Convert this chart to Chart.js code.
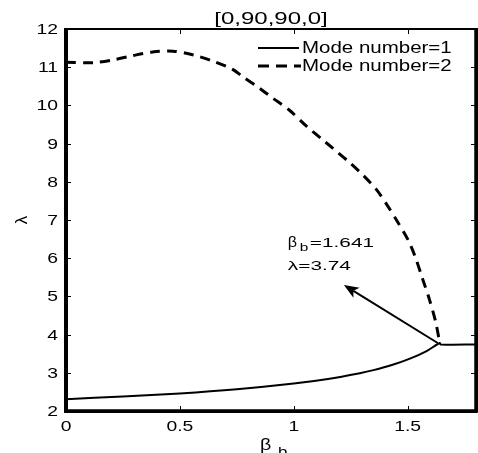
<!DOCTYPE html>
<html><head><meta charset="utf-8">
<script src="https://cdn.jsdelivr.net/npm/chart.js@4/dist/chart.umd.min.js"></script>
<style>html,body{margin:0;padding:0;background:#fff;}canvas{display:block}</style>
</head><body>
<canvas id="c" width="478" height="453"></canvas>
<script>
const chartTitle = '[0,90,90,0]';
const xTicks = [0, 0.5, 1, 1.5];
const xTickLabels = ['0', '0.5', '1', '1.5'];
const yTicks = [2, 3, 4, 5, 6, 7, 8, 9, 10, 11, 12];
const yTickLabels = ['2', '3', '4', '5', '6', '7', '8', '9', '10', '11', '12'];
const seriesNames = ['Mode number=1', 'Mode number=2'];
const mode1X = [0, 0.25, 0.5, 0.75, 1.0, 1.15, 1.29, 1.35, 1.434, 1.51, 1.583, 1.641, 1.645, 1.8];
const mode1Y = [2.31, 2.38, 2.46, 2.57, 2.72, 2.84, 2.99, 3.07, 3.21, 3.37, 3.57, 3.78, 3.74, 3.74];
const mode2X = [0, 0.12, 0.206, 0.29, 0.38, 0.47, 0.56, 0.645, 0.73, 0.776, 0.85, 0.908, 0.98, 1.057, 1.127, 1.171, 1.246, 1.303, 1.364, 1.412, 1.456, 1.5, 1.531, 1.566, 1.596, 1.623, 1.641];
const mode2Y = [11.13, 11.12, 11.19, 11.3, 11.4, 11.42, 11.32, 11.16, 10.95, 10.75, 10.45, 10.19, 9.88, 9.45, 9.1, 8.88, 8.5, 8.18, 7.79, 7.37, 6.95, 6.5, 6.07, 5.45, 4.91, 4.33, 3.78];
const critBeta = '1.641';
const critLambda = '3.74';
const arrowFrom = [1.632, 3.78];
const arrowTo = [1.22, 5.3];
const noteAnchor = [0.974, 6.29];

const toPts = (xs, ys) => xs.map((x, i) => ({x, y: ys[i]}));
const FONT = '"Liberation Sans", Arial, Helvetica, sans-serif';

function sText(ctx, text, x, y, size, sx, align) {
  ctx.save();
  ctx.font = size + 'px ' + FONT;
  const w = ctx.measureText(text).width * sx;
  let dx = x;
  if (align === 'center') dx = x - w / 2;
  else if (align === 'right') dx = x - w;
  ctx.translate(dx, y);
  ctx.scale(sx, 1);
  ctx.textAlign = 'left';
  ctx.textBaseline = 'alphabetic';
  ctx.fillStyle = '#000';
  ctx.fillText(text, 0, 0);
  ctx.restore();
  return w;
}

function seg(ctx, x1, y1, x2, y2, lw, dash) {
  ctx.save();
  ctx.setLineDash(dash || []);
  ctx.strokeStyle = '#000000';
  ctx.lineWidth = lw;
  ctx.beginPath();
  ctx.moveTo(x1, y1);
  ctx.lineTo(x2, y2);
  ctx.stroke();
  ctx.restore();
}

function drawFrame(chart) {
  const ctx = chart.ctx;
  const a = chart.chartArea;
  const L = a.left, R = a.right, T = a.top, B = a.bottom;
  const xs = chart.scales.x, ys = chart.scales.y;
  seg(ctx, L - 2, T, R + 1.5, T, 2);
  seg(ctx, R, T - 1, R, B + 1.5, 3);
  seg(ctx, L - 0.5, T - 1, L - 0.5, B + 1.5, 3);
  seg(ctx, L - 2, B, R + 1.5, B, 3);
  const tl = 5;
  xTicks.forEach((v) => {
    const px = Math.round(xs.getPixelForValue(v)) + 0.5;
    seg(ctx, px, B, px, B - tl, 1);
    seg(ctx, px, T, px, T + tl, 1);
  });
  yTicks.forEach((v) => {
    const py = Math.round(ys.getPixelForValue(v)) + 0.5;
    seg(ctx, L, py, L + tl, py, 1);
    seg(ctx, R, py, R - tl, py, 1);
  });
}

const decor = {
  id: 'decor',
  beforeDatasetsDraw(chart) {
    drawFrame(chart);
  },
  afterDraw(chart) {
    const ctx = chart.ctx;
    const a = chart.chartArea;
    const L = a.left, R = a.right, T = a.top, B = a.bottom;
    const xs = chart.scales.x, ys = chart.scales.y;
    ctx.save();
    drawFrame(chart);
    xTicks.forEach((v, i) => {
      sText(ctx, xTickLabels[i], xs.getPixelForValue(v), B + 20, 14, 1.38, 'center');
    });
    yTicks.forEach((v, i) => {
      sText(ctx, yTickLabels[i], L - 8, ys.getPixelForValue(v) + 5, 14, 1.38, 'right');
    });
    sText(ctx, chartTitle, (L + R) / 2, T - 5, 16, 1.5, 'center');
    sText(ctx, '\u03b2', (L + R) / 2 - 11, B + 39, 17, 1.15, 'left');
    sText(ctx, 'b', (L + R) / 2 + 7, B + 45, 13, 1.3, 'left');
    ctx.save();
    ctx.translate(27, (T + B) / 2);
    ctx.rotate(-Math.PI / 2);
    sText(ctx, '\u03bb', 0, 0, 17, 1.0, 'center');
    ctx.restore();
    const lx0 = 258, lx1 = 299;
    seg(ctx, lx0, T + 19, lx1, T + 19, 2);
    seg(ctx, lx0, T + 37, lx1 + 2, T + 37, 3, [11, 7]);
    sText(ctx, seriesNames[0], 302, T + 24, 16, 1.28, 'left');
    sText(ctx, seriesNames[1], 302, T + 42, 16, 1.28, 'left');
    const fx = xs.getPixelForValue(arrowFrom[0]), fy = ys.getPixelForValue(arrowFrom[1]);
    const tx = xs.getPixelForValue(arrowTo[0]), ty = ys.getPixelForValue(arrowTo[1]);
    const ang = Math.atan2(ty - fy, tx - fx);
    const hl = 16, hw = 0.38;
    const bx = tx - Math.cos(ang) * (hl * 0.7), by = ty - Math.sin(ang) * (hl * 0.7);
    seg(ctx, fx, fy, bx, by, 2);
    ctx.fillStyle = '#000';
    ctx.beginPath();
    ctx.moveTo(tx, ty);
    ctx.lineTo(tx - hl * Math.cos(ang - hw), ty - hl * Math.sin(ang - hw));
    ctx.lineTo(bx, by);
    ctx.lineTo(tx - hl * Math.cos(ang + hw), ty - hl * Math.sin(ang + hw));
    ctx.closePath();
    ctx.fill();
    const nx = xs.getPixelForValue(noteAnchor[0]), ny = ys.getPixelForValue(noteAnchor[1]);
    sText(ctx, '\u03b2', nx, ny, 14, 1.15, 'left');
    sText(ctx, 'b', nx + 12, ny + 4, 11, 1.4, 'left');
    sText(ctx, '=' + critBeta, nx + 22, ny, 13, 1.6, 'left');
    sText(ctx, '\u03bb=' + critLambda, nx, ny + 23, 13, 1.6, 'left');
    ctx.restore();
  }
};

const zeroFit = (scale) => { if (scale.isHorizontal()) scale.height = 0; else scale.width = 0; };
const frameAxis = (pos, axis, min, max, bw) => ({
  type: 'linear', position: pos, axis: axis, min: min, max: max, display: true,
  ticks: { display: false },
  grid: { display: true, drawOnChartArea: false, drawTicks: false, color: 'rgba(0,0,0,0)' },
  border: { display: true, color: '#000', width: bw },
  afterFit: zeroFit
});

new Chart(document.getElementById('c'), {
  type: 'scatter',
  data: {
    datasets: [
      { label: seriesNames[0], data: toPts(mode1X, mode1Y), showLine: true, borderColor: '#000', borderWidth: 2, pointRadius: 0, tension: 0.3, fill: false },
      { label: seriesNames[1], data: toPts(mode2X, mode2Y), showLine: true, borderColor: '#000', borderWidth: 3, borderDash: [10, 7], pointRadius: 0, tension: 0.3, fill: false }
    ]
  },
  options: {
    responsive: false,
    devicePixelRatio: 1,
    animation: false,
    layout: { padding: { left: 66, top: 29, right: 2, bottom: 42 } },
    plugins: { legend: { display: false }, tooltip: { enabled: false }, title: { display: false } },
    scales: {
      x: frameAxis('bottom', 'x', 0, 1.8, 3),
      y: frameAxis('left', 'y', 2, 12, 3),
      xTop: frameAxis('top', 'x', 0, 1.8, 2),
      yRight: frameAxis('right', 'y', 2, 12, 3)
    }
  },
  plugins: [decor]
});
</script>
</body></html>
